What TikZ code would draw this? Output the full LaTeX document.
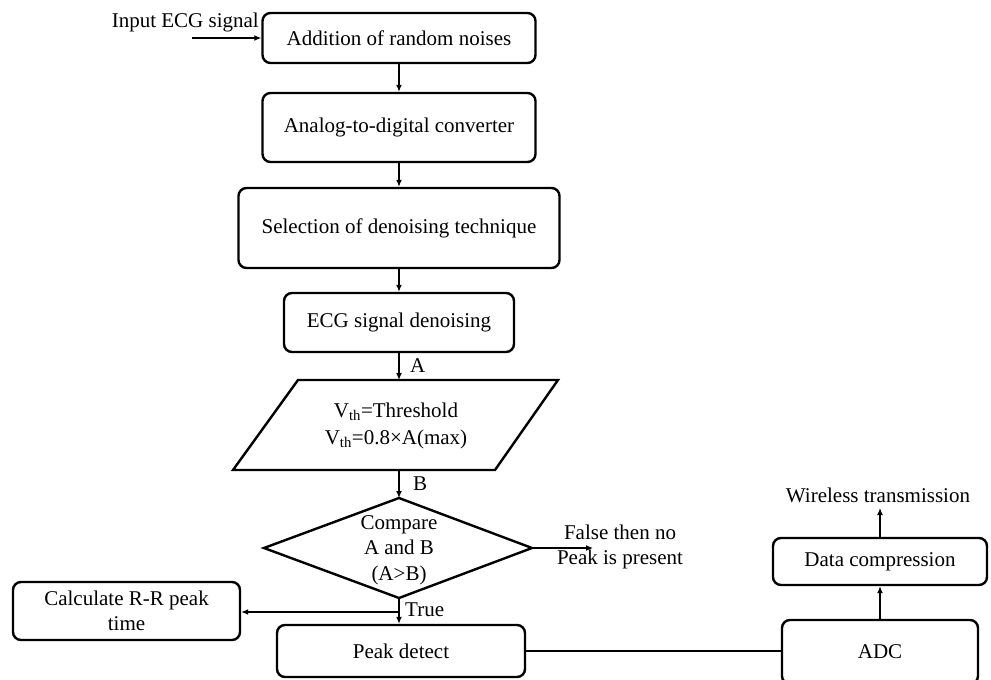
\documentclass[tikz,border=0pt]{standalone}
\usepackage{fontspec}
\setmainfont{Liberation Serif}
\usetikzlibrary{arrows.meta}
\begin{document}
\begin{tikzpicture}[x=1pt,y=-1pt,
 box/.style={draw,line width=2.4pt,rounded corners=8pt,align=center,font=\fontsize{21}{25}\selectfont,inner sep=0},
 shp/.style={draw,line width=2.4pt,line join=miter},
 arr/.style={-{Latex[length=7pt,width=6pt]},line width=1.3pt},
 ln/.style={line width=1.3pt},
 lbl/.style={font=\fontsize{21}{25}\selectfont,inner sep=0,align=center}]
\useasboundingbox (0,0) rectangle (991,680);
% boxes
\node[box,minimum width=273pt,minimum height=50pt] (n1) at (399,38) {Addition of random noises};
\node[box,minimum width=273pt,minimum height=69pt] (n2) at (399,127.5) {Analog-to-digital converter};
\node[box,minimum width=321pt,minimum height=80pt] (n3) at (399,228) {Selection of denoising technique};
\node[box,minimum width=230pt,minimum height=59pt] (n4) at (399,322.5) {ECG signal denoising};
% parallelogram
\coordinate (pa) at (298,380); \coordinate (pbb) at (558,380);
\coordinate (pc) at (495,470); \coordinate (pd) at (233,470);
\draw[shp] (pa) -- (pbb) -- (pc) -- (pd) -- cycle;
\coordinate (pt) at (399,380); \coordinate (pb) at (399,470);
\node[lbl,font=\fontsize{21}{27}\selectfont] (p) at (396,426) {V\textsubscript{th}=Threshold\\V\textsubscript{th}=0.8×A(max)};
% diamond
\coordinate (dt) at (399,498); \coordinate (dr) at (532,548);
\coordinate (db) at (399,598); \coordinate (dl) at (264,548);
\draw[shp] (dt) -- (dr) -- (db) -- (dl) -- cycle;
\node[lbl,font=\fontsize{21}{25.5}\selectfont] (d) at (399,550) {Compare\\A and B\\(A>B)};
% other boxes
\node[box,minimum width=227pt,minimum height=58pt] (calc) at (126.5,611) {Calculate R-R peak\\time};
\node[box,minimum width=248pt,minimum height=52pt] (peak) at (401,651) {Peak detect};
\node[box,minimum width=196pt,minimum height=64pt] (adc) at (880,652) {ADC};
\node[box,minimum width=214pt,minimum height=47pt] (dc) at (880,561.5) {Data compression};
% labels
\node[lbl,anchor=east] (inp) at (259,22) {Input ECG signal};
\coordinate (in) at (192,38);
\node[lbl,anchor=west] (la) at (410,366) {A};
\node[lbl,anchor=west] (lb) at (413,484) {B};
\node[lbl] (fl) at (620,547) {False then no\\Peak is present};
\coordinate (fe) at (593,548);
\node[lbl,anchor=west] (lt) at (405,610) {True};
\coordinate (tj) at (399,612);
\node[lbl] (wt) at (878,495) {Wireless transmission};
\coordinate (we) at (880,508);
% connectors
\draw[arr] (in) -- (n1.west);
\draw[arr] (n1) -- (n2);
\draw[arr] (n2) -- (n3);
\draw[arr] (n3) -- (n4);
\draw[arr] (n4.south) -- (pt);
\draw[arr] (pb) -- (dt);
\draw[arr] (dr) -- (fe);
\draw[arr] (db) -- (db |- peak.north);
\draw[arr] (tj) -- (calc.east |- tj);
\draw[ln] (peak.east) -- (peak.east -| adc.west);
\draw[arr] (adc.north) -- (dc.south);
\draw[arr] (dc.north) -- (we);
\end{tikzpicture}
\end{document}
